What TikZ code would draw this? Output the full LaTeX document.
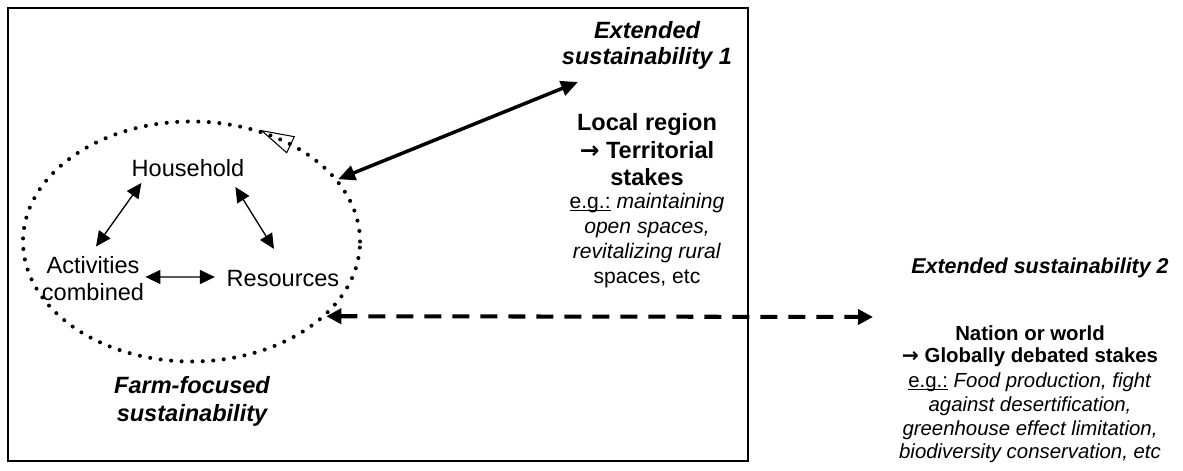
\documentclass[tikz,border=0pt]{standalone}
\usepackage{fontspec}
\setmainfont{Liberation Sans}
\newfontfamily\arrfont{DejaVu Sans}
\newcommand\egul[1]{\setbox0\hbox{#1}\rlap{\rule[-1.4pt]{\wd0}{.6pt}}\box0\relax}
\newcommand\toarr{{\arrfont\bfseries →}}
\usetikzlibrary{arrows.meta,shapes.geometric}
\begin{document}
\begin{tikzpicture}[
    lbl/.style={font=\fontsize{13.4}{15.4}\selectfont,align=center,inner sep=0pt},
    headit/.style={font=\fontsize{13.4}{15.2}\selectfont\bfseries\itshape,align=center,inner sep=0pt},
    head/.style={font=\fontsize{13.4}{15.6}\selectfont\bfseries,align=center,inner sep=0pt},
    ex/.style={font=\fontsize{12}{14.2}\selectfont,align=center,inner sep=0pt},
    dots/.style={draw,line width=2.3pt,line cap=round,dash pattern=on 0pt off 6pt},
    link/.style={{Triangle[length=.3cm,width=.28cm]}-{Triangle[length=.3cm,width=.28cm]},line width=.75pt},
    biglink/.style={{Triangle[length=.34cm,width=.3cm]}-{Triangle[length=.34cm,width=.3cm]},line width=2pt}
  ]
  \useasboundingbox (0,0) rectangle (23.66,9.42);
  \draw[line width=.85pt] (0.16,0.2) rectangle (14.96,9.26);
  % farm level
  \node[dots,ellipse,minimum width=6.74cm,minimum height=4.8cm,inner sep=0pt] (farm) at (3.83,4.59) {};
  \draw[line width=.6pt] (5.234,6.806)--(5.886,6.686)--(5.734,6.366)--cycle;
  \node[lbl] (house) at (3.76,6.06) {Household};
  \node[lbl] (act) at (1.86,3.84) {Activities\\combined};
  \node[lbl] (res) at (5.66,3.85) {Resources};
  \node[headit,font=\fontsize{13.4}{15.9}\selectfont\bfseries\itshape] (farmlbl) at (3.84,1.4) {Farm-focused\\sustainability};
  \draw[link] ([xshift=.2cm,yshift=-.12cm]house.south west) -- ([xshift=.06cm,yshift=.2cm]act.north);
  \draw[link] ([xshift=-.185cm,yshift=-.2cm]house.south east) -- ([xshift=-.18cm,yshift=.42cm]res.north);
  \draw[link] ([xshift=.02cm,yshift=.04cm]act.east) -- ([xshift=-.23cm,yshift=.03cm]res.west);
  % local region
  \node[headit,font=\fontsize{13.4}{14.8}\selectfont\bfseries\itshape] (ext1) at (12.94,8.52) {Extended\\sustainability 1};
  \node[head] (local) at (12.94,6.42) {Local region\\\toarr{} Territorial\\stakes};
  \node[ex] (localex) at (12.94,4.61) {\egul{e.g.:} \textit{maintaining}\\\textit{open spaces,}\\\textit{revitalizing rural}\\spaces, etc};
  \coordinate (e1) at (11.56,7.78);
  \draw[biglink] (farm.23.4) -- (e1);
  % nation or world
  \node[headit,font=\fontsize{12.2}{14}\selectfont\bfseries\itshape] (ext2) at (20.8,4.06) {Extended sustainability 2};
  \node[head,font=\fontsize{11.6}{12.5}\selectfont\bfseries] (nation) at (20.6,2.5) {Nation or world\\\toarr{} Globally debated stakes};
  \node[ex,font=\fontsize{11.6}{13.4}\selectfont] (nationex) at (20.6,1.06) {\egul{e.g.:} \textit{Food production, fight}\\\textit{against desertification,}\\\textit{greenhouse effect limitation,}\\\textit{biodiversity conservation, etc}};
  \coordinate (e2) at (17.46,3.08);
  \draw[biglink,line width=2.3pt,dash pattern=on .34cm off .22cm,{Triangle[length=.3cm,width=.3cm]}-{Triangle[length=.3cm,width=.3cm]}] (farm.-29.5) -- (e2);
\end{tikzpicture}
\end{document}
